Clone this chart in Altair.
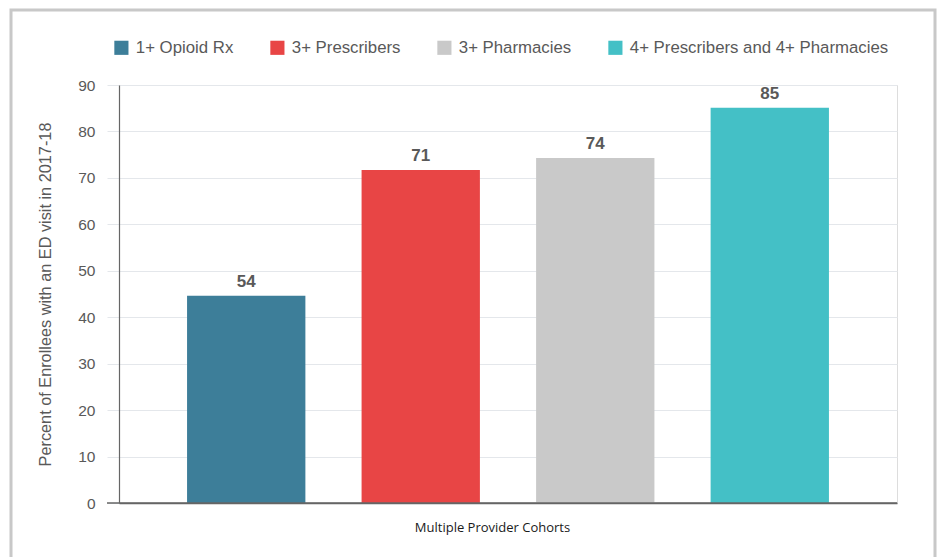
import altair as alt
import pandas as pd

cohorts = ["1+ Opioid Rx", "3+ Prescribers", "3+ Pharmacies", "4+ Prescribers and 4+ Pharmacies"]
values = [44.6, 71.7, 74.3, 85.1]
labels = ["54", "71", "74", "85"]
colors = ["#3d7e99", "#e84545", "#c9c9c9", "#44c0c6"]
y_ticks = [0, 10, 20, 30, 40, 50, 60, 70, 80, 90]

df = pd.DataFrame({"cohort": cohorts, "value": values, "label": labels})

W, H = 778, 418
GRID = "#e4e7eb"
TXT = "#595959"

x_enc = alt.X(
    "cohort:N", sort=cohorts,
    scale=alt.Scale(paddingInner=0.322, paddingOuter=0.39),
    axis=alt.Axis(labels=False, ticks=False, title="Multiple Provider Cohorts",
                  titleFont="Open Sans", titleFontSize=13, titleFontWeight="normal",
                  titleColor="#1a1a1a", titleY=24, titleX=373, titleBaseline="middle",
                  domainColor="#666666", domainWidth=1.5),
)
y_scale = alt.Scale(domain=[0, 90], nice=False)

bars = alt.Chart(df).mark_bar().encode(
    x=x_enc,
    y=alt.Y("value:Q", scale=y_scale,
            axis=alt.Axis(values=y_ticks, grid=True, gridColor=GRID, tickColor=GRID,
                          tickSize=12, domainColor="#666666", domainWidth=1.2,
                          labelColor=TXT, labelFontSize=15.5, labelFont="Liberation Sans",
                          labelPadding=12,
                          title="Percent of Enrollees with an ED visit in 2017-18",
                          titleFont="Liberation Sans", titleFontSize=16.3,
                          titleFontWeight="normal", titleColor=TXT, titlePadding=24)),
    color=alt.Color("cohort:N", sort=cohorts,
                    scale=alt.Scale(domain=cohorts, range=colors),
                    legend=alt.Legend(orient="none", direction="horizontal",
                                      legendX=-6, legendY=-46, title=None,
                                      symbolType="square", symbolSize=200,
                                      symbolStrokeWidth=0, symbolOpacity=1,
                                      labelFont="Liberation Sans", labelFontSize=16.8,
                                      labelLimit=0,
                                      labelColor=TXT, labelOffset=6, columnPadding=35)),
)

text = alt.Chart(df).mark_text(baseline="bottom", dy=-5, fontWeight="bold",
                               fontSize=17, font="Liberation Sans", color=TXT).encode(
    x=alt.X("cohort:N", sort=cohorts),
    y=alt.Y("value:Q", scale=y_scale),
    text="label:N",
)

zero = alt.Chart(pd.DataFrame({"v": [0]})).mark_rule(color="#666666", strokeWidth=1.5).encode(
    y=alt.Y("v:Q", scale=y_scale), x=alt.value(-12), x2=alt.value(W)
)

border = alt.Chart(pd.DataFrame({"a": [0]})).mark_rect(
    fill="transparent", stroke="#c8c8c8", strokeWidth=3, clip=False
).encode(x=alt.value(-108), x2=alt.value(816), y=alt.value(-75), y2=alt.value(500))

chart = alt.layer(border, bars, text, zero).properties(
    width=W, height=H,
    autosize=alt.AutoSizeParams(type="none"),
    padding={"left": 119, "top": 85, "right": 41, "bottom": 54},
).configure_view(stroke=None).configure(background="white")

chart.save("out.html", embed_options={"renderer": "svg", "actions": False})
